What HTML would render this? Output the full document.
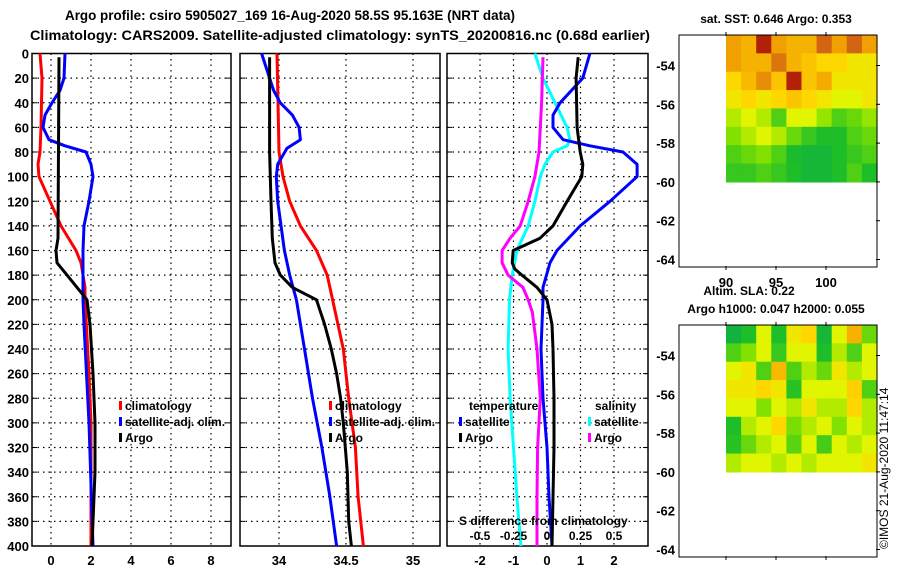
<!DOCTYPE html>
<html><head><meta charset="utf-8">
<style>
html,body{margin:0;padding:0;background:#fff;}
svg{display:block;font-family:"Liberation Sans",sans-serif;font-weight:bold;}
</style></head>
<body>
<svg id="chart" width="900" height="580" viewBox="0 0 900 580" xmlns="http://www.w3.org/2000/svg">
<text x="65" y="20" font-size="14" textLength="450" lengthAdjust="spacingAndGlyphs">Argo profile: csiro 5905027_169 16-Aug-2020 58.5S 95.163E (NRT data)</text>
<text x="30" y="40" font-size="14" textLength="620" lengthAdjust="spacingAndGlyphs">Climatology: CARS2009. Satellite-adjusted climatology: synTS_20200816.nc (0.68d earlier)</text>
<g id="g"></g>
</svg>
<script>
// ---------- data ----------
const depthTicks = [0,20,40,60,80,100,120,140,160,180,200,220,240,260,280,300,320,340,360,380,400];
// Temperature panel
const tClimDepth = [0,20,60,80,90,100,120,140,160,170,190,200,260,300,400];
const tClimVal   = [-0.55,-0.45,-0.5,-0.55,-0.65,-0.6,-0.05,0.5,1.25,1.5,1.7,1.7,1.9,2.0,2.0];
const tArgoDepth = [3,150,160,170,180,190,200,220,260,300,340,360,400];
const tArgoVal   = [0.4,0.35,0.25,0.3,0.8,1.3,1.8,1.95,2.1,2.2,2.2,2.15,2.05];
const tSatDepth  = [0,20,30,40,50,60,70,75,80,90,100,120,140,160,200,220,300,400];
const tSatVal    = [0.7,0.65,0.45,0.05,-0.3,-0.4,-0.1,0.7,1.75,2.0,2.1,1.9,1.65,1.6,1.6,1.65,1.9,2.1];
const tTicks = [0,2,4,6,8];
// Salinity panel
const sClimDepth = [0,80,100,120,140,160,180,200,240,280,320,360,400];
const sClimVal   = [33.985,34.0,34.03,34.08,34.16,34.28,34.36,34.4,34.48,34.52,34.57,34.59,34.63];
const sArgoDepth = [3,80,120,150,170,180,190,200,220,240,260,280,300,340,380,400];
const sArgoVal   = [33.93,33.93,33.94,33.95,33.97,34.01,34.1,34.28,34.34,34.39,34.43,34.46,34.48,34.51,34.52,34.54];
const sSatDepth  = [0,20,30,40,50,60,70,77,90,100,120,160,180,200,240,280,320,360,400];
const sSatVal    = [33.87,33.93,33.96,34.01,34.1,34.15,34.16,34.06,33.99,33.98,33.99,34.04,34.08,34.13,34.19,34.25,34.32,34.38,34.43];
const sTicks = [34,34.5,35];
// Difference panel (temperature diff, salinity diff)
const dTSatDepth = [0,20,40,50,60,70,75,80,90,100,120,140,160,170,190,200,240,280,320,360,400];
const dTSatVal   = [1.28,1.07,0.39,0.18,0.18,0.48,1.28,2.27,2.69,2.69,1.88,0.99,0.3,0.09,-0.12,-0.12,-0.18,-0.12,0,0.06,0.15];
const dTArgoDepth = [3,20,60,80,90,100,120,140,150,160,170,175,180,190,200,220,240,280,320,360,400];
const dTArgoVal   = [0.93,0.87,0.9,0.99,1.07,1.04,0.6,0.18,-0.21,-1.01,-1.04,-0.96,-0.75,-0.3,0,0.15,0.18,0.21,0.21,0.18,0.15];
const dSSatDepth = [0,20,40,60,70,75,80,90,100,120,140,160,180,200,240,280,320,360,400];
const dSSatVal   = [-0.09,-0.03,0.06,0.15,0.17,0.15,0.045,-0.015,-0.05,-0.09,-0.14,-0.225,-0.26,-0.28,-0.29,-0.275,-0.25,-0.225,-0.195];
const dSArgoDepth = [3,40,80,100,120,140,150,160,170,180,190,200,210,240,280,320,360,400];
const dSArgoVal   = [-0.03,-0.04,-0.06,-0.09,-0.14,-0.2,-0.275,-0.335,-0.335,-0.29,-0.18,-0.14,-0.11,-0.075,-0.05,-0.07,-0.075,-0.075];
const dTTicks = [-2,-1,0,1,2];
const dSTicks = [-0.5,-0.25,0,0.25,0.5];
const dSTickLabels = ["-0.5","-0.25","0","0.25","0.5"];
// Maps
const lonTicks = [90,95,100];
const latTicks = [-54,-56,-58,-60,-62,-64];
const sstGrid = [
 [0.75,0.7,0.95,0.75,0.7,0.7,0.85,0.75,0.85,0.75],
 [0.75,0.7,0.7,0.82,0.7,0.65,0.6,0.6,0.55,0.55],
 [0.6,0.68,0.78,0.65,0.95,0.65,0.72,0.55,0.55,0.55],
 [0.55,0.6,0.55,0.6,0.65,0.6,0.55,0.5,0.5,0.55],
 [0.45,0.5,0.45,0.3,0.5,0.5,0.42,0.3,0.35,0.42],
 [0.4,0.45,0.5,0.45,0.35,0.25,0.2,0.2,0.3,0.35],
 [0.3,0.35,0.4,0.3,0.18,0.15,0.15,0.2,0.25,0.3],
 [0.25,0.25,0.3,0.25,0.2,0.15,0.15,0.2,0.3,0.2]];
const slaGrid = [
 [0.12,0.2,0.5,0.2,0.55,0.6,0.15,0.5,0.7,0.35],
 [0.3,0.4,0.5,0.25,0.5,0.5,0.2,0.45,0.3,0.5],
 [0.5,0.55,0.3,0.68,0.3,0.45,0.35,0.55,0.45,0.5],
 [0.55,0.55,0.6,0.55,0.22,0.5,0.5,0.5,0.62,0.3],
 [0.5,0.5,0.4,0.5,0.45,0.55,0.45,0.45,0.6,0.45],
 [0.2,0.45,0.5,0.6,0.38,0.45,0.5,0.4,0.5,0.45],
 [0.22,0.35,0.45,0.5,0.32,0.5,0.28,0.5,0.45,0.5],
 [0.45,0.5,0.5,0.45,0.5,0.45,0.5,0.5,0.5,0.55]];

// ---------- drawing ----------
const NS='http://www.w3.org/2000/svg';
const G=document.getElementById('g');
function mk(tag,attrs,parent){const e=document.createElementNS(NS,tag);for(const k in attrs)e.setAttribute(k,attrs[k]);(parent||G).appendChild(e);return e;}
const yTop=53.5, yBot=546;
function yD(d){return yTop+(d/400)*(yBot-yTop);}
function lin(d0,d1,r0,r1){return v=>r0+(v-d0)/(d1-d0)*(r1-r0);}

function panel(name,x0,x1,xs,ticks,tickLabels,showY){
  const g=mk('g',{});
  
  
  depthTicks.forEach(d=>{
    if(d>0&&d<400){const l=mk('line',{x1:x0,x2:x1,y1:yD(d),y2:yD(d),stroke:'#000','stroke-width':1.2,'stroke-dasharray':'1.5,4'},g);
    }
    mk('line',{x1:x0,x2:x0+5,y1:yD(d),y2:yD(d),stroke:'#000','stroke-width':1},g);
    mk('line',{x1:x1-5,x2:x1,y1:yD(d),y2:yD(d),stroke:'#000','stroke-width':1},g);
    if(showY){const t=mk('text',{x:x0-3,y:yD(d)+5,'font-size':13,'text-anchor':'end'},g);t.textContent=d;
      }
  });
  ticks.forEach((v,i)=>{
    const x=xs(v);
    const l=mk('line',{x1:x,x2:x,y1:yTop,y2:yBot,stroke:'#000','stroke-width':1.2,'stroke-dasharray':'1.5,4'},g);
    
    const t=mk('text',{x:x,y:565,'font-size':13,'text-anchor':'middle'},g);t.textContent=tickLabels[i];
    
  });
  const r=mk('rect',{x:x0,y:yTop,width:x1-x0,height:yBot-yTop,fill:'none',stroke:'#000','stroke-width':1.5},g);
  
  return g;
}
function series(g,name,depths,vals,xs,color){
  const pts=depths.map((d,i)=>xs(vals[i]).toFixed(1)+','+yD(d).toFixed(1)).join(' ');
  const p=mk('polyline',{points:pts,fill:'none',stroke:color,'stroke-width':3,'stroke-linejoin':'round'},g);
  
  
}
function legendEntry(g,name,x,y,color,label){
  const e=mk('g',{},g);
  
  
  mk('rect',{x:x,y:y-9,width:3,height:9,fill:color},e);
  const t=mk('text',{x:x+6,y:y,'font-size':12},e);t.textContent=label;
}
function legendText(g,name,x,y,label,anchor){
  const t=mk('text',{x:x,y:y,'font-size':12,'text-anchor':anchor||'start'},g);t.textContent=label;
  
}

// Panel 1: temperature
const xT=lin(0,2,51,91);
const p1=panel('temperature-panel',32,231,xT,tTicks,tTicks.map(String),true);
series(p1,'temp-climatology-line',tClimDepth,tClimVal,xT,'#f00');
series(p1,'temp-satellite-adj-line',tSatDepth,tSatVal,xT,'#00f');
series(p1,'temp-argo-line',tArgoDepth,tArgoVal,xT,'#000');
legendEntry(p1,'legend-climatology',119,410,'#f00','climatology');
legendEntry(p1,'legend-satellite-adj',119,426,'#00f','satellite-adj. clim.');
legendEntry(p1,'legend-argo',119,442,'#000','Argo');

// Panel 2: salinity
const xS=lin(34,35,279,413);
const p2=panel('salinity-panel',240,440,xS,sTicks,sTicks.map(String),false);
series(p2,'sal-climatology-line',sClimDepth,sClimVal,xS,'#f00');
series(p2,'sal-satellite-adj-line',sSatDepth,sSatVal,xS,'#00f');
series(p2,'sal-argo-line',sArgoDepth,sArgoVal,xS,'#000');
legendEntry(p2,'legend-climatology-2',329,410,'#f00','climatology');
legendEntry(p2,'legend-satellite-adj-2',329,426,'#00f','satellite-adj. clim.');
legendEntry(p2,'legend-argo-2',329,442,'#000','Argo');

// Panel 3: differences
const xDT=lin(0,1,547,580.5);
const xDS=v=>xDT(v*4);
const p3=panel('difference-panel',447,648,xDT,dTTicks,dTTicks.map(String),false);
series(p3,'sal-diff-satellite-line',dSSatDepth,dSSatVal,xDS,'#0ff');
series(p3,'sal-diff-argo-line',dSArgoDepth,dSArgoVal,xDS,'#f0f');
series(p3,'temp-diff-satellite-line',dTSatDepth,dTSatVal,xDT,'#00f');
series(p3,'temp-diff-argo-line',dTArgoDepth,dTArgoVal,xDT,'#000');
legendText(p3,'legend-temperature-heading',469,410,'temperature');
legendEntry(p3,'legend-temp-satellite',459,426,'#00f','satellite');
legendEntry(p3,'legend-temp-argo',459,442,'#000','Argo');
legendText(p3,'legend-salinity-heading',595,410,'salinity');
legendEntry(p3,'legend-sal-satellite',588,426,'#0ff','satellite');
legendEntry(p3,'legend-sal-argo',588,442,'#f0f','Argo');
legendText(p3,'s-diff-axis-title',459,525,'S difference from climatology');
dSTicks.forEach((v,i)=>{
  const t=mk('text',{x:xDS(v),y:540,'font-size':12,'text-anchor':'middle'},p3);t.textContent=dSTickLabels[i];
  
});

// Maps
function ramp(stops,v){
  for(let i=1;i<stops.length;i++){if(v<=stops[i][0]){const a=stops[i-1],b=stops[i];const f=(v-a[0])/(b[0]-a[0]);
    const c=[0,1,2].map(k=>Math.round(a[1][k]+(b[1][k]-a[1][k])*f));return 'rgb('+c.join(',')+')';}}
  const l=stops[stops.length-1][1];return 'rgb('+l.join(',')+')';
}
const cmap=[[0,[0,160,100]],[0.2,[30,190,40]],[0.4,[130,225,0]],[0.5,[225,245,0]],[0.6,[255,215,0]],[0.75,[240,160,0]],[0.85,[210,100,20]],[1,[160,0,0]]];
function mapPanel(name,y0,grid,title1,title2,showLon){
  const g=mk('g',{});
  
  
  const x0=679,x1=877,y1=y0+232;
  const lonS=lin(90,100,726,826), latS=lin(-54,-64,y0+30.5,y0+224.5);
  const rows=grid.length,cols=grid[0].length;
  const ix0=lonS(90),ix1=x1,iy0=y0,iy1=latS(-60);
  const cw=(ix1-ix0)/cols,ch=(iy1-iy0)/rows;
  grid.forEach((row,r)=>row.forEach((v,c)=>{
    const cell=mk('rect',{x:(ix0+c*cw).toFixed(2),y:(iy0+r*ch).toFixed(2),width:(cw+0.6).toFixed(2),height:(ch+0.6).toFixed(2),fill:ramp(cmap,v)},g);
    
  }));
  mk('rect',{x:x0,y:y0,width:x1-x0,height:y1-y0,fill:'none',stroke:'#000','stroke-width':1},g);
  latTicks.forEach(v=>{const y=latS(v);
    mk('line',{x1:x1-1,x2:x1+3,y1:y,y2:y,stroke:'#000'},g);
    const t=mk('text',{x:x0-4,y:y+5,'font-size':13,'text-anchor':'end'},g);t.textContent=v;
    });
  lonTicks.forEach(v=>{const x=lonS(v);
    mk('line',{x1:x,x2:x,y1:y0-3,y2:y0+1,stroke:'#000'},g);
    mk('line',{x1:x,x2:x,y1:y1-1,y2:y1+3,stroke:'#000'},g);
    if(showLon){const t=mk('text',{x:x,y:y1+20,'font-size':13,'text-anchor':'middle'},g);t.textContent=v;
    }});
  title1.forEach((tt,i)=>{const t=mk('text',{x:tt[1],y:tt[2],'font-size':12,'text-anchor':'middle'},g);t.textContent=tt[0];
    });
}
mapPanel('sst-map',35,sstGrid,[['sat. SST: 0.646 Argo: 0.353',776,23]],['sst-map-title'],true);
mapPanel('sla-map',325,slaGrid,[['Altim. SLA: 0.22',749,295],['Argo h1000: 0.047 h2000: 0.055',776,313]],['sla-map-title','sla-map-subtitle'],false);
const cp=mk('text',{x:0,y:0,'font-size':12,'font-weight':'normal',transform:'translate(888,549) rotate(-90)'});
cp.textContent='©IMOS 21-Aug-2020 11:47:14';


</script>
</body></html>
